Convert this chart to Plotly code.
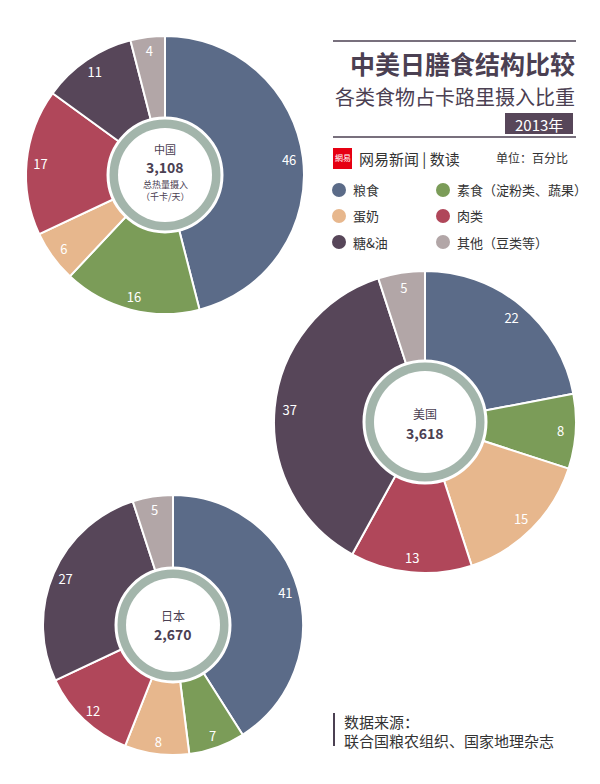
import plotly.graph_objects as go

W, H = 600, 784

categories = ["粮食", "素食（淀粉类、蔬果）", "蛋奶", "肉类", "糖&油", "其他（豆类等）"]
colors = ["#5b6b88", "#7b9c58", "#e7b78d", "#b0475a", "#574659", "#b2a6a7"]

countries = ["中国", "美国", "日本"]
totals = ["3,108", "3,618", "2,670"]
china = [46, 16, 6, 17, 11, 4]
usa = [22, 8, 15, 13, 37, 5]
japan = [41, 7, 8, 12, 27, 5]
series = [china, usa, japan]

# layout geometry (pixels): center x, center y, radius, ring radius
geom = [(165, 175, 139, 57), (425, 422, 151, 61), (173, 625, 130, 57)]

FONT = "Noto Sans CJK SC"
DARK = "#4b4052"
RING = "#a3b5ab"

def px(x):
    return x / W

def py(y):
    return 1 - y / H

fig = go.Figure()
shapes = []
annotations = []

for vals, (cx, cy, r, rr) in zip(series, geom):
    dom = dict(x=[px(cx - r), px(cx + r)], y=[py(cy + r), py(cy - r)])
    fig.add_trace(go.Pie(
        values=vals, labels=categories, sort=False, direction="clockwise",
        rotation=0, domain=dom, textinfo="none", hoverinfo="skip",
        marker=dict(colors=colors, line=dict(color="white", width=2)),
        showlegend=False))
    fig.add_trace(go.Pie(
        values=vals, labels=categories, sort=False, direction="clockwise",
        rotation=0, domain=dom, hole=0.8, textinfo="value",
        textposition="inside", insidetextorientation="horizontal",
        insidetextfont=dict(color="white", size=13, family=FONT),
        hoverinfo="skip",
        marker=dict(colors=["rgba(0,0,0,0)"] * len(vals), line=dict(width=0)),
        showlegend=False))
    # ring
    shapes.append(dict(type="circle", xref="paper", yref="paper",
                       x0=px(cx - rr), x1=px(cx + rr), y0=py(cy + rr), y1=py(cy - rr),
                       fillcolor=RING, line=dict(color="white", width=3), layer="above"))
    ri = rr - 10
    shapes.append(dict(type="circle", xref="paper", yref="paper",
                       x0=px(cx - ri), x1=px(cx + ri), y0=py(cy + ri), y1=py(cy - ri),
                       fillcolor="white", line=dict(width=0), layer="above"))

def txt(x, y, text, size, color=DARK, xanchor="center", bold=False, family=FONT):
    if bold:
        text = "<b>" + text + "</b>"
    annotations.append(dict(x=px(x), y=py(y), xref="paper", yref="paper",
                            text=text, showarrow=False, xanchor=xanchor, yanchor="middle",
                            font=dict(size=size, color=color, family=family)))

# center labels
txt(165, 149, countries[0], 11)
txt(165, 167, totals[0], 14, bold=True)
txt(165, 184, "总热量摄入", 9)
txt(165, 197, "（千卡/天）", 9)
txt(425, 414, countries[1], 12)
txt(425, 433, totals[1], 14, bold=True)
txt(173, 615, countries[2], 12)
txt(173, 634, totals[2], 14, bold=True)

# title block
shapes.append(dict(type="line", xref="paper", yref="paper", x0=px(333), x1=px(576),
                   y0=py(41), y1=py(41), line=dict(color=DARK, width=1.5)))
txt(577, 63, "中美日膳食结构比较", 25, xanchor="right", bold=True)
txt(577, 96, "各类食物占卡路里摄入比重", 20, xanchor="right")
shapes.append(dict(type="rect", xref="paper", yref="paper", x0=px(505), x1=px(573),
                   y0=py(134), y1=py(113), fillcolor="#574659", line=dict(width=0)))
txt(539, 124, "2013年", 15, color="white")
shapes.append(dict(type="line", xref="paper", yref="paper", x0=px(333), x1=px(576),
                   y0=py(137), y1=py(137), line=dict(color=DARK, width=1.5)))

# logo
shapes.append(dict(type="rect", xref="paper", yref="paper", x0=px(333), x1=px(352),
                   y0=py(169), y1=py(148), fillcolor="#e60012", line=dict(width=0)))
txt(342.5, 157, "網易", 8, color="white")
txt(357, 158, "网易新闻 | 数读", 15, color="#333333", xanchor="left")
txt(570, 157, "单位：百分比", 12, color="#333333", xanchor="right")

# legend
leg_x = [339, 443]
leg_y = [190, 216, 242]
for i, (cat, col) in enumerate(zip(categories, colors)):
    lx = leg_x[i % 2]
    ly = leg_y[i // 2]
    shapes.append(dict(type="circle", xref="paper", yref="paper",
                       x0=px(lx - 7), x1=px(lx + 7), y0=py(ly + 7), y1=py(ly - 7),
                       fillcolor=col, line=dict(width=0)))
    txt(lx + 12, ly, cat, 13, color="#333333", xanchor="left")

# source
shapes.append(dict(type="line", xref="paper", yref="paper", x0=px(334), x1=px(334),
                   y0=py(713), y1=py(746), line=dict(color=DARK, width=2)))
txt(342, 721, "数据来源：", 15, color="#333333", xanchor="left")
txt(342, 740, "联合国粮农组织、国家地理杂志", 15, color="#333333", xanchor="left")

fig.update_layout(width=W, height=H, margin=dict(l=0, r=0, t=0, b=0),
                  paper_bgcolor="white", plot_bgcolor="white",
                  shapes=shapes, annotations=annotations, showlegend=False,
                  font=dict(family=FONT))
fig.write_html("out.html")
